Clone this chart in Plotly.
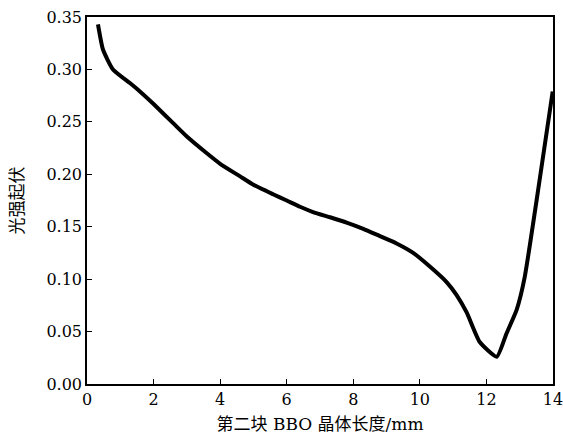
import plotly.graph_objects as go

length_mm = [0.33, 0.48, 0.78, 1.29, 1.59, 2.0, 2.58, 3.0, 3.6, 4.0, 4.6, 5.0, 5.59, 6.0,
             6.4, 6.79, 7.3, 7.8, 8.3, 8.8, 9.3, 9.8, 10.3, 10.81, 11.1, 11.41, 11.8,
             12.31, 12.6, 12.91, 13.15, 13.6, 13.99]
fluctuation = [0.343, 0.319, 0.300, 0.287, 0.279, 0.267, 0.249, 0.236, 0.220, 0.210, 0.198,
               0.190, 0.181, 0.175, 0.169, 0.164, 0.159, 0.154, 0.148, 0.141, 0.134, 0.125,
               0.112, 0.097, 0.085, 0.068, 0.040, 0.026, 0.048, 0.071, 0.102, 0.195, 0.279]

x_ticks = [0, 2, 4, 6, 8, 10, 12, 14]
y_ticks = [0.00, 0.05, 0.10, 0.15, 0.20, 0.25, 0.30, 0.35]
y_tick_labels = ["0.00", "0.05", "0.10", "0.15", "0.20", "0.25", "0.30", "0.35"]

font_family = "DejaVu Serif, Noto Sans CJK SC, serif"

fig = go.Figure(go.Scatter(
    x=length_mm, y=fluctuation, mode="lines",
    line=dict(color="black", width=4, shape="spline", smoothing=0.5), showlegend=False,
))

fig.update_layout(
    width=563, height=441,
    margin=dict(l=87, r=10, t=17, b=57),
    plot_bgcolor="white", paper_bgcolor="white",
    font=dict(family=font_family, size=16, color="black"),
)
fig.update_xaxes(
    range=[0, 14], tickvals=x_ticks, ticks="inside", ticklen=5, tickcolor="black",
    showline=True, mirror=True, linecolor="black", linewidth=1.5, showgrid=False,
    zeroline=False, automargin=False, ticklabeloverflow="allow",
    title=dict(text="第二块 BBO 晶体长度/mm", font=dict(size=17), standoff=10),
)
fig.update_yaxes(
    range=[0, 0.35], tickvals=y_ticks, ticktext=y_tick_labels, ticks="inside",
    ticklen=5, tickcolor="black",
    showline=True, mirror=True, linecolor="black", linewidth=1.5, showgrid=False,
    zeroline=False, automargin=False, ticklabeloverflow="allow",
    title=dict(text="光强起伏", font=dict(size=17), standoff=18),
)

fig.write_html("out.html", config={"displayModeBar": False},
               post_script="document.body.style.margin='0';")
